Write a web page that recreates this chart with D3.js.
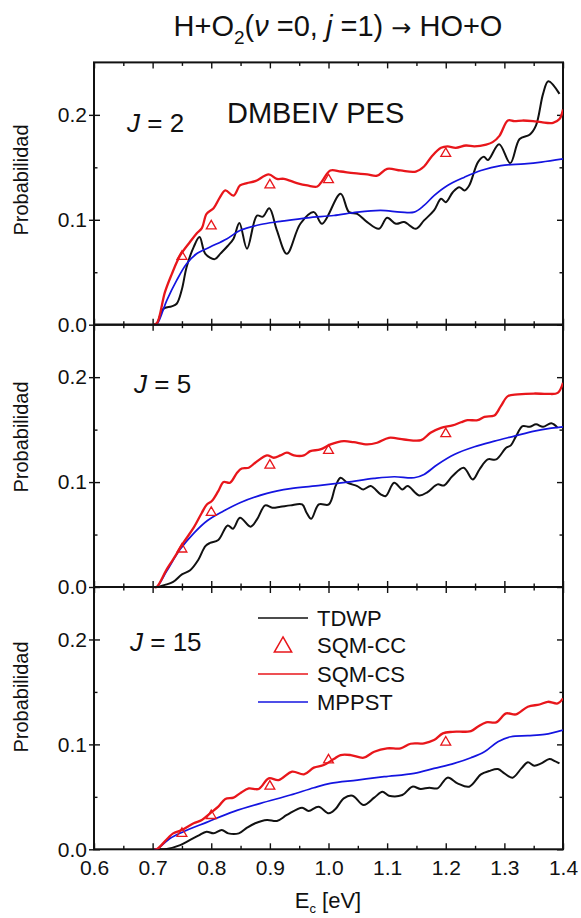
<!DOCTYPE html>
<html>
<head>
<meta charset="utf-8">
<script src="https://cdn.jsdelivr.net/npm/d3@7"></script>
<style>
  body { margin: 0; background: #fff; }
  svg { display: block; font-family: "Liberation Sans", Arial, sans-serif; }
</style>
</head>
<body>
<svg id="chart" width="581" height="918"></svg>
<script>
// ---- axis settings ----
const xMajorTicks = [0.6, 0.7, 0.8, 0.9, 1.0, 1.1, 1.2, 1.3, 1.4];
const xMinorTicks = [0.65, 0.75, 0.85, 0.95, 1.05, 1.15, 1.25, 1.35];
const yMajorTicks = [0.0, 0.1, 0.2];
const yMinorTicks = [0.05, 0.15];
const panelJ = ["2", "5", "15"];
const seriesNames = ["TDWP", "SQM-CC", "SQM-CS", "MPPST"];

// ---- J = 2 ----
const tdwpJ2 = [[0.703,0],[0.708,0.002],[0.718,0.015],[0.7325,0.0175],[0.741,0.020],[0.7496,0.033],[0.758,0.055],[0.770,0.074],[0.780,0.0835],[0.790,0.0676],[0.806,0.0625],[0.816,0.068],[0.828,0.075],[0.838,0.082],[0.848,0.097],[0.861,0.0725],[0.878,0.104],[0.888,0.103],[0.899,0.111],[0.912,0.09],[0.929,0.0676],[0.952,0.0962],[0.975,0.1073],[0.989,0.0962],[1.0206,0.1248],[1.035,0.1073],[1.049,0.1057],[1.066,0.0978],[1.086,0.0914],[1.100,0.1019],[1.115,0.0962],[1.129,0.0978],[1.149,0.0914],[1.163,0.0994],[1.180,0.1089],[1.192,0.12],[1.200,0.1168],[1.212,0.1263],[1.223,0.1311],[1.232,0.128],[1.240,0.1327],[1.255,0.155],[1.265,0.160],[1.272,0.157],[1.291,0.172],[1.310,0.154],[1.326,0.177],[1.343,0.181],[1.354,0.19],[1.366,0.22],[1.375,0.232],[1.394,0.22]];
const sqmCsJ2 = [[0.703,0],[0.708,0.002],[0.721,0.031],[0.7325,0.048],[0.747,0.066],[0.764,0.079],[0.775,0.087],[0.784,0.092],[0.792,0.1057],[0.804,0.111],[0.815,0.1216],[0.824,0.128],[0.838,0.123],[0.849,0.1327],[0.861,0.135],[0.875,0.1368],[0.898,0.1432],[0.912,0.139],[0.924,0.139],[0.946,0.135],[0.964,0.1327],[0.981,0.1317],[0.989,0.1368],[1.003,0.147],[1.021,0.146],[1.043,0.1444],[1.066,0.1432],[1.083,0.142],[1.100,0.1486],[1.123,0.147],[1.149,0.146],[1.163,0.1508],[1.177,0.161],[1.192,0.1686],[1.203,0.170],[1.217,0.1686],[1.2345,0.1708],[1.249,0.170],[1.269,0.1717],[1.280,0.174],[1.2916,0.180],[1.306,0.1946],[1.317,0.194],[1.331,0.1946],[1.349,0.194],[1.363,0.193],[1.383,0.1924],[1.394,0.196],[1.400,0.205]];
const mppstJ2 = [[0.703,0],[0.708,0.001],[0.724,0.023],[0.741,0.0422],[0.758,0.058],[0.775,0.0676],[0.798,0.074],[0.827,0.082],[0.849,0.0898],[0.884,0.0955],[0.918,0.0984],[0.964,0.1019],[1.009,0.1041],[1.049,0.1073],[1.089,0.1089],[1.123,0.1073],[1.146,0.1073],[1.163,0.1137],[1.180,0.123],[1.203,0.1327],[1.232,0.1406],[1.260,0.147],[1.294,0.1517],[1.334,0.1533],[1.363,0.155],[1.400,0.158]];
const sqmCcJ2 = [[0.75,0.066],[0.8,0.095],[0.9,0.134],[1.0,0.139],[1.2,0.164]];

// ---- J = 5 ----
const tdwpJ5 = [[0.703,0],[0.707,0],[0.721,0.002],[0.735,0.0048],[0.75,0.012],[0.764,0.016],[0.778,0.026],[0.79,0.039],[0.798,0.042],[0.812,0.0448],[0.828,0.0587],[0.837,0.0556],[0.849,0.066],[0.867,0.0575],[0.878,0.0644],[0.892,0.0778],[0.904,0.0756],[0.918,0.0765],[0.935,0.0778],[0.955,0.0787],[0.9626,0.0708],[0.9705,0.065],[0.9835,0.0787],[1.0006,0.0787],[1.012,0.0962],[1.0206,0.1041],[1.032,0.0994],[1.049,0.0962],[1.0594,0.093],[1.072,0.0962],[1.089,0.0883],[1.0976,0.0867],[1.112,0.0994],[1.126,0.093],[1.135,0.0962],[1.1546,0.0873],[1.169,0.0905],[1.186,0.0978],[1.197,0.0968],[1.2116,0.1057],[1.2305,0.1137],[1.246,0.1025],[1.2575,0.112],[1.2716,0.1216],[1.286,0.1216],[1.303,0.1327],[1.311,0.135],[1.32,0.1438],[1.331,0.1533],[1.343,0.1527],[1.354,0.155],[1.366,0.1527],[1.38,0.156],[1.391,0.1517]];
const sqmCsJ5 = [[0.703,0],[0.707,0],[0.724,0.0168],[0.735,0.0263],[0.7525,0.0422],[0.770,0.0565],[0.784,0.0708],[0.7925,0.0787],[0.801,0.082],[0.812,0.0914],[0.821,0.100],[0.832,0.0994],[0.844,0.1089],[0.852,0.113],[0.864,0.1137],[0.875,0.1184],[0.895,0.1254],[0.9065,0.1232],[0.918,0.1254],[0.929,0.128],[0.941,0.1254],[0.958,0.1254],[0.969,0.1295],[0.986,0.1311],[1.0035,0.1359],[1.026,0.139],[1.043,0.138],[1.066,0.1359],[1.083,0.1375],[1.103,0.1422],[1.129,0.1406],[1.158,0.140],[1.174,0.147],[1.192,0.1517],[1.2116,0.154],[1.226,0.157],[1.237,0.159],[1.2545,0.159],[1.266,0.1622],[1.283,0.1635],[1.294,0.1724],[1.306,0.1819],[1.323,0.1835],[1.351,0.1844],[1.374,0.184],[1.391,0.185],[1.400,0.1946]];
const mppstJ5 = [[0.703,0],[0.707,0],[0.724,0.0152],[0.747,0.0359],[0.770,0.0511],[0.7925,0.0629],[0.821,0.0724],[0.849,0.0803],[0.895,0.0892],[0.935,0.0937],[0.986,0.0968],[1.032,0.100],[1.0776,0.1035],[1.112,0.1051],[1.146,0.1041],[1.163,0.1073],[1.186,0.1168],[1.2145,0.1263],[1.249,0.1337],[1.283,0.139],[1.317,0.1438],[1.351,0.1486],[1.38,0.1514],[1.400,0.1527]];
const sqmCcJ5 = [[0.75,0.037],[0.8,0.072],[0.9,0.117],[1.0,0.131],[1.2,0.147]];

// ---- J = 15 ----
const tdwpJ15 = [[0.703,0],[0.707,0],[0.724,0.0003],[0.747,0.004],[0.764,0.0089],[0.778,0.013],[0.792,0.0168],[0.804,0.0152],[0.818,0.0184],[0.829,0.0152],[0.847,0.0152],[0.861,0.0206],[0.875,0.0248],[0.895,0.028],[0.912,0.027],[0.929,0.0327],[0.955,0.0397],[0.966,0.0365],[0.983,0.0406],[1.0006,0.0343],[1.012,0.0384],[1.026,0.0486],[1.041,0.0511],[1.06,0.0422],[1.078,0.0492],[1.092,0.0549],[1.103,0.0511],[1.126,0.0517],[1.143,0.0597],[1.157,0.0575],[1.172,0.0587],[1.186,0.0581],[1.203,0.0683],[1.22,0.0629],[1.24,0.0597],[1.26,0.0714],[1.274,0.0746],[1.289,0.0765],[1.3,0.0724],[1.314,0.0683],[1.329,0.0771],[1.34,0.0829],[1.351,0.0797],[1.363,0.0819],[1.377,0.086],[1.386,0.0841],[1.394,0.0819]];
const sqmCsJ15 = [[0.703,0],[0.707,0],[0.735,0.0152],[0.75,0.0184],[0.77,0.0248],[0.784,0.028],[0.798,0.0343],[0.812,0.0406],[0.824,0.048],[0.838,0.0492],[0.849,0.0533],[0.864,0.058],[0.881,0.0575],[0.898,0.0676],[0.915,0.066],[0.938,0.074],[0.958,0.0714],[0.975,0.0778],[0.992,0.0803],[1.009,0.086],[1.0206,0.0898],[1.038,0.0898],[1.060,0.0873],[1.078,0.093],[1.100,0.0962],[1.123,0.0962],[1.140,0.1006],[1.163,0.101],[1.180,0.1041],[1.195,0.1105],[1.2116,0.112],[1.243,0.1127],[1.2545,0.1168],[1.269,0.121],[1.286,0.121],[1.303,0.1295],[1.32,0.1286],[1.34,0.1359],[1.36,0.138],[1.374,0.1406],[1.391,0.139],[1.400,0.1438]];
const mppstJ15 = [[0.703,0],[0.707,0],[0.73,0.0105],[0.7525,0.0168],[0.792,0.0257],[0.838,0.0359],[0.884,0.0438],[0.935,0.0517],[0.975,0.0587],[1.003,0.0629],[1.049,0.066],[1.095,0.0692],[1.146,0.0724],[1.18,0.0771],[1.2145,0.0819],[1.243,0.0873],[1.266,0.093],[1.289,0.1025],[1.311,0.1073],[1.34,0.1083],[1.369,0.1095],[1.400,0.1137]];
const sqmCcJ15 = [[0.75,0.016],[0.8,0.033],[0.9,0.061],[1.0,0.086],[1.2,0.103]];

const panels = [
  { j: panelJ[0], tdwp: tdwpJ2,  cs: sqmCsJ2,  mppst: mppstJ2,  cc: sqmCcJ2 },
  { j: panelJ[1], tdwp: tdwpJ5,  cs: sqmCsJ5,  mppst: mppstJ5,  cc: sqmCcJ5 },
  { j: panelJ[2], tdwp: tdwpJ15, cs: sqmCsJ15, mppst: mppstJ15, cc: sqmCcJ15 }
];

// ---- layout ----
const plotLeft = 94, plotRight = 563;
const panelTop0 = 62.4, panelH = 262.3;
const colBlack = "#111", colRed = "#e8161b", colBlue = "#1414e0";

const svg = d3.select("#chart");
const x = d3.scaleLinear().domain([0.6, 1.4]).range([plotLeft, plotRight]);

const tri = d3.symbol().type(d3.symbolTriangle);

// title
const title = svg.append("text")
  .attr("x", 338).attr("y", 36)
  .attr("text-anchor", "middle")
  .attr("font-size", 29).attr("fill", "#111");
title.append("tspan").text("H+O");
title.append("tspan").attr("font-size", 19).attr("dy", 8).text("2");
title.append("tspan").attr("dy", -8).text("(");
title.append("tspan").attr("font-style", "italic").text("\u03BD ");
title.append("tspan").text("=0, ");
title.append("tspan").attr("font-style", "italic").text("j ");
title.append("tspan").text("=1) ");
title.append("tspan").attr("font-family", "'DejaVu Sans', sans-serif").attr("font-size", 24).text("\u2192");
title.append("tspan").text(" HO+O");

svg.append("defs").append("clipPath").attr("id", "plotClip")
  .append("rect")
  .attr("x", plotLeft).attr("y", panelTop0)
  .attr("width", plotRight - plotLeft).attr("height", panelH * 3);

const yLabelCenters = [180, 437, 697];

panels.forEach((p, i) => {
  const top = panelTop0 + i * panelH;
  const bottom = top + panelH;
  const y = d3.scaleLinear().domain([0, 0.25]).range([bottom, top]);
  const g = svg.append("g");

  const styleAxis = sel => {
    sel.select(".domain").remove();
    sel.selectAll(".tick line").attr("stroke", "#111").attr("stroke-width", 1.4);
    sel.selectAll("text").attr("fill", "#111").attr("font-size", 21)
      .attr("font-family", "'Liberation Sans', Arial, sans-serif");
  };

  // left axis: labelled majors (inward) + outward stubs + minors
  g.append("g").attr("transform", `translate(${plotLeft},0)`)
    .call(d3.axisLeft(y).tickValues(yMajorTicks).tickSize(-6).tickPadding(7).tickFormat(d3.format(".1f")))
    .call(styleAxis);
  g.append("g").attr("transform", `translate(${plotLeft},0)`)
    .call(d3.axisLeft(y).tickValues(yMajorTicks).tickSize(5).tickFormat(""))
    .call(styleAxis);
  g.append("g").attr("transform", `translate(${plotLeft},0)`)
    .call(d3.axisLeft(y).tickValues(yMinorTicks).tickSize(-3.5).tickFormat(""))
    .call(styleAxis);
  // right axis
  g.append("g").attr("transform", `translate(${plotRight},0)`)
    .call(d3.axisRight(y).tickValues(yMajorTicks).tickSize(-6).tickFormat(""))
    .call(styleAxis);
  g.append("g").attr("transform", `translate(${plotRight},0)`)
    .call(d3.axisRight(y).tickValues(yMinorTicks).tickSize(-3.5).tickFormat(""))
    .call(styleAxis);
  // top axis
  g.append("g").attr("transform", `translate(0,${top})`)
    .call(d3.axisTop(x).tickValues(xMajorTicks).tickSize(-6).tickFormat(""))
    .call(styleAxis);
  g.append("g").attr("transform", `translate(0,${top})`)
    .call(d3.axisTop(x).tickValues(xMinorTicks).tickSize(-3.5).tickFormat(""))
    .call(styleAxis);
  // bottom axis, labelled only on the last panel
  const last = i === panels.length - 1;
  g.append("g").attr("transform", `translate(0,${bottom})`)
    .call(d3.axisBottom(x).tickValues(xMajorTicks).tickSize(-6).tickPadding(11)
      .tickFormat(last ? d3.format(".1f") : ""))
    .call(styleAxis);
  g.append("g").attr("transform", `translate(0,${bottom})`)
    .call(d3.axisBottom(x).tickValues(xMinorTicks).tickSize(-3.5).tickFormat(""))
    .call(styleAxis);

  // frame
  g.append("rect")
    .attr("x", plotLeft).attr("y", top)
    .attr("width", plotRight - plotLeft).attr("height", panelH)
    .attr("fill", "none").attr("stroke", "#111").attr("stroke-width", 2);

  // y label
  svg.append("text")
    .attr("transform", `translate(28,${yLabelCenters[i]}) rotate(-90)`)
    .attr("text-anchor", "middle").attr("font-size", 20).attr("fill", "#111")
    .text("Probabilidad");

  // curves
  const line = d3.line()
    .x(d => x(d[0])).y(d => y(d[1]))
    .curve(d3.curveCatmullRom.alpha(0.5));
  const lines = g.append("g").attr("clip-path", "url(#plotClip)");
  lines.append("path").datum(p.tdwp).attr("d", line)
    .attr("fill", "none").attr("stroke", colBlack).attr("stroke-width", 2);
  lines.append("path").datum(p.mppst).attr("d", line)
    .attr("fill", "none").attr("stroke", colBlue).attr("stroke-width", 1.7);
  lines.append("path").datum(p.cs).attr("d", line)
    .attr("fill", "none").attr("stroke", colRed).attr("stroke-width", 2.3);

  // SQM-CC triangles
  g.selectAll(".cc").data(p.cc).join("path")
    .attr("class", "cc")
    .attr("d", tri.size(42))
    .attr("transform", d => `translate(${x(d[0])},${y(d[1]) + 1})`)
    .attr("fill", "none").attr("stroke", colRed).attr("stroke-width", 1.3);

  // panel label
  const lab = svg.append("text")
    .attr("x", [127, 134, 130][i]).attr("y", [131.5, 392.5, 650.5][i])
    .attr("font-size", 26).attr("fill", "#111");
  lab.append("tspan").attr("font-style", "italic").text("J");
  lab.append("tspan").text(" = " + p.j);

  if (i === 0) {
    svg.append("text").attr("x", 227).attr("y", 123)
      .attr("font-size", 29).attr("fill", "#111").text("DMBEIV PES");
  }

  if (last) {
    // legend
    const rows = [618, 645, 674, 702];
    const lg = svg.append("g");
    lg.append("line").attr("x1", 258).attr("x2", 308).attr("y1", rows[0]).attr("y2", rows[0])
      .attr("stroke", colBlack).attr("stroke-width", 1.6);
    lg.append("path").attr("d", tri.size(130))
      .attr("transform", `translate(283,${rows[1] + 2})`)
      .attr("fill", "none").attr("stroke", colRed).attr("stroke-width", 1.5);
    lg.append("line").attr("x1", 258).attr("x2", 308).attr("y1", rows[2]).attr("y2", rows[2])
      .attr("stroke", colRed).attr("stroke-width", 1.6);
    lg.append("line").attr("x1", 258).attr("x2", 308).attr("y1", rows[3]).attr("y2", rows[3])
      .attr("stroke", colBlue).attr("stroke-width", 1.6);
    seriesNames.forEach((n, k) => {
      lg.append("text").attr("x", 317).attr("y", rows[k]).attr("dy", "0.36em")
        .attr("font-size", 22).attr("fill", "#111").text(n);
    });
  }
});

// x axis title
const xt = svg.append("text").attr("x", 328).attr("y", 908)
  .attr("text-anchor", "middle").attr("font-size", 22).attr("fill", "#111");
xt.append("tspan").text("E");
xt.append("tspan").attr("font-size", 13).attr("dy", 5).text("c");
xt.append("tspan").attr("dy", -5).text(" [eV]");
</script>
</body>
</html>
